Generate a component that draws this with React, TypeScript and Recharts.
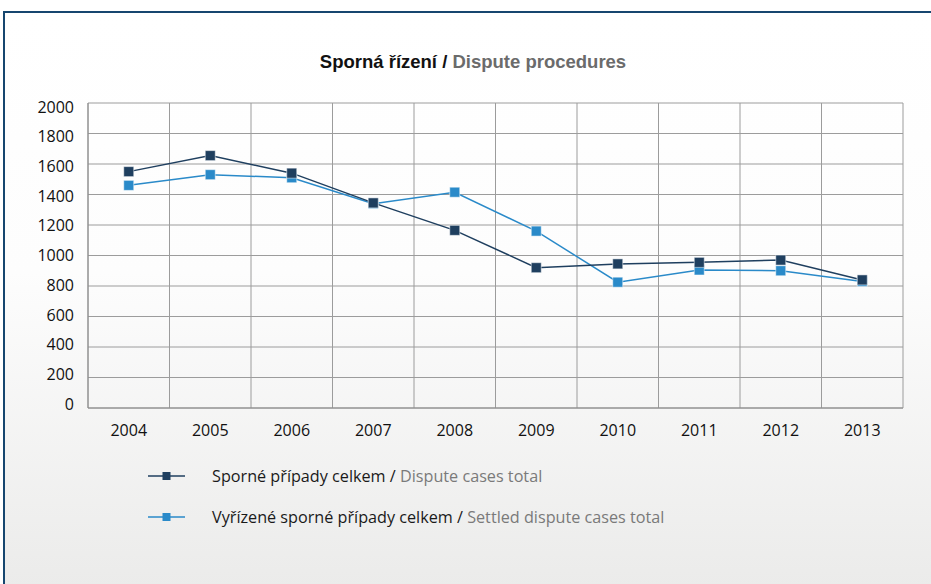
import { CartesianGrid, Line, LineChart, XAxis, YAxis } from "recharts";

const years = ["2004", "2005", "2006", "2007", "2008", "2009", "2010", "2011", "2012", "2013"];
const disputeTotal = [1550, 1655, 1540, 1345, 1165, 920, 945, 955, 970, 840];
const settledTotal = [1460, 1530, 1510, 1340, 1415, 1160, 825, 905, 900, 830];
const yTicks = [0, 200, 400, 600, 800, 1000, 1200, 1400, 1600, 1800, 2000];

const seriesInfo = [
  { key: "dispute", cz: "Sporné případy celkem", en: "Dispute cases total", color: "#1f3f5f" },
  { key: "settled", cz: "Vyřízené sporné případy celkem", en: "Settled dispute cases total", color: "#2a8ac9" },
];

const rows = years.map((year, i) => ({
  year,
  dispute: disputeTotal[i],
  settled: settledTotal[i],
}));

const FONT = "'Open Sans', 'Noto Sans', sans-serif";

function squareDot(color: string) {
  return (props: { cx?: number; cy?: number; index?: number }) => {
    const { cx, cy, index } = props;
    if (cx == null || cy == null) return <g key={index} />;
    return (
      <rect
        key={index}
        x={cx - 5}
        y={cy - 5}
        width={10}
        height={10}
        fill={color}
        stroke="#ffffff"
        strokeOpacity={0.5}
        strokeWidth={1}
      />
    );
  };
}

// labels sit a little inside the axis range in the original
function YTick(props: any) {
  const { x, y, payload } = props;
  const shift = 4 - 8 * (1 - payload.value / 2000);
  return (
    <text x={x} y={y + shift} dy="0.355em" textAnchor="end" fill="#111" fontSize={16} fontFamily={FONT}>
      {payload.value}
    </text>
  );
}

function LegendBox() {
  return (
    <div style={{ position: "absolute", left: 148, top: 455, fontFamily: FONT, fontSize: 16.2 }}>
      {seriesInfo.map((s) => (
        <div key={s.key} style={{ display: "flex", alignItems: "center", height: 41 }}>
          <svg width={64} height={12} style={{ flex: "none" }}>
            <line x1={0} y1={6} x2={37} y2={6} stroke={s.color} strokeWidth={1.5} />
            <rect x={14.5} y={2} width={8} height={8} fill={s.color} />
          </svg>
          <span style={{ color: "#1a1a1a", whiteSpace: "nowrap" }}>
            {s.cz} / <span style={{ color: "#7a7a7a" }}>{s.en}</span>
          </span>
        </div>
      ))}
    </div>
  );
}

export default function App() {
  return (
    <div style={{ position: "absolute", left: 0, top: 0, width: 931, height: 584, background: "#fff", overflow: "hidden" }}>
      <div
        style={{
          position: "absolute",
          left: 3,
          top: 11,
          right: -4,
          bottom: -4,
          borderTop: "2.5px solid #16466f",
          borderLeft: "2.5px solid #16466f",
          background: "linear-gradient(to bottom, #ffffff 0%, #fdfdfd 45%, #ebebea 100%)",
        }}
      />
      <div
        style={{
          position: "absolute",
          left: 0,
          width: 946,
          top: 51,
          textAlign: "center",
          fontFamily: "'Liberation Sans Narrow', 'Liberation Sans', sans-serif",
          fontWeight: "bold",
          fontSize: 18.5,
          color: "#111",
        }}
      >
        Sporná řízení / <span style={{ color: "#6b6b6b" }}>Dispute procedures</span>
      </div>
      <div style={{ position: "absolute", left: 0, top: 0 }}>
        <LineChart width={931} height={584} data={rows} margin={{ top: 103, right: 28, bottom: 146, left: 0 }}>
          <CartesianGrid
            stroke="#9c9c9c"
            strokeWidth={1}
            verticalCoordinatesGenerator={({ offset }: any) =>
              Array.from({ length: years.length + 1 }, (_, i) => offset.left + (i * offset.width) / years.length)
            }
          />
          <XAxis
            dataKey="year"
            height={30}
            padding={{ left: 40.75, right: 40.75 }}
            tickLine={false}
            tickSize={0}
            tickMargin={17}
            axisLine={{ stroke: "#8a8a8a" }}
            tick={{ fill: "#111", fontSize: 16, fontFamily: FONT }}
            interval={0}
          />
          <YAxis
            width={88}
            domain={[0, 2000]}
            ticks={yTicks}
            tickLine={false}
            tickSize={0}
            tickMargin={14}
            axisLine={{ stroke: "#8a8a8a" }}
            tick={<YTick />}
            interval={0}
          />
          <Line
            dataKey="settled"
            name={`${seriesInfo[1].cz} / ${seriesInfo[1].en}`}
            stroke={seriesInfo[1].color}
            strokeWidth={1.5}
            dot={squareDot(seriesInfo[1].color)}
            activeDot={false}
            isAnimationActive={false}
          />
          <Line
            dataKey="dispute"
            name={`${seriesInfo[0].cz} / ${seriesInfo[0].en}`}
            stroke={seriesInfo[0].color}
            strokeWidth={1.5}
            dot={squareDot(seriesInfo[0].color)}
            activeDot={false}
            isAnimationActive={false}
          />
        </LineChart>
      </div>
      <LegendBox />
    </div>
  );
}
